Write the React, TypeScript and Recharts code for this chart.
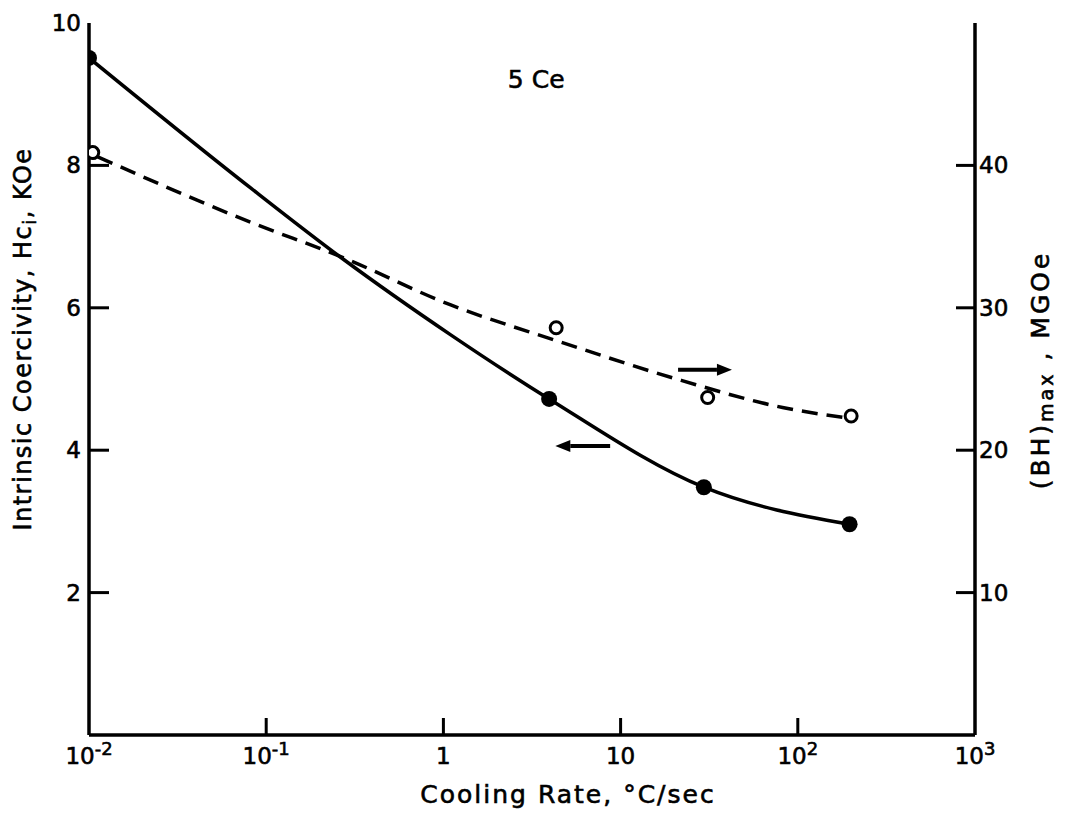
import {
  ComposedChart,
  Line,
  Scatter,
  XAxis,
  YAxis,
  ReferenceLine,
  ReferenceDot,
  Label,
} from 'recharts'

// filled points: intrinsic coercivity (KOe), left axis
const hciPoints = [
  { x: 0.01, y: 9.51 },
  { x: 3.95, y: 4.72 },
  { x: 29.5, y: 3.48 },
  { x: 196, y: 2.96 },
]

// solid curve drawn through the filled points
const hciCurve = [
  { x: 0.01, y: 9.51 },
  { x: 0.082, y: 7.68 },
  { x: 0.263, y: 6.71 },
  { x: 1.1, y: 5.62 },
  { x: 3.95, y: 4.72 },
  { x: 29.5, y: 3.48 },
  { x: 196, y: 2.96 },
]

// open points: (BH)max (MGOe), right axis
const bhPoints = [
  { x: 0.0105, y: 40.9 },
  { x: 4.33, y: 28.6 },
  { x: 31, y: 23.7 },
  { x: 200, y: 22.4 },
]

// dashed fit curve
const bhCurve = [
  { x: 0.0112, y: 40.6 },
  { x: 0.082, y: 36.0 },
  { x: 0.263, y: 33.6 },
  { x: 1.1, y: 30.2 },
  { x: 4.33, y: 27.7 },
  { x: 22, y: 24.9 },
  { x: 82, y: 23.0 },
  { x: 180, y: 22.3 },
]

const xTicks = [0.01, 0.1, 1, 10, 100, 1000]
const xTickLabels: Record<number, [string, string]> = {
  0.01: ['10', '-2'],
  0.1: ['10', '-1'],
  1: ['1', ''],
  10: ['10', ''],
  100: ['10', '2'],
  1000: ['10', '3'],
}
const leftTicks = [2, 4, 6, 8, 10]
const rightTicks = [10, 20, 30, 40]

// arrows pointing to the axis each curve belongs to
const rightArrow = [{ x: 21.1, y: 5.13 }, { x: 42.5, y: 5.13 }]
const leftArrow = [{ x: 8.73, y: 4.06 }, { x: 4.28, y: 4.06 }]

const FONT = '"DejaVu Sans", sans-serif'
const textStyle = { fontFamily: FONT, fill: '#000', stroke: '#000', strokeWidth: 0.6 }

const LeftTick = ({ x, y, payload }: any) => (
  <g>
    {payload.value !== 10 && <line x1={x} x2={x + 20} y1={y} y2={y} stroke="#000" strokeWidth={3} />}
    <text x={x - 8} y={y} textAnchor="end" dominantBaseline="central" fontSize={23} {...textStyle}>
      {payload.value}
    </text>
  </g>
)

const RightTick = ({ x, y, payload }: any) => (
  <g>
    <line x1={x} x2={x - 19} y1={y} y2={y} stroke="#000" strokeWidth={3} />
    <text x={x + 4} y={y} textAnchor="start" dominantBaseline="central" fontSize={23} {...textStyle}>
      {payload.value}
    </text>
  </g>
)

const BottomTick = ({ x, y, payload }: any) => {
  const v = payload.value
  const [base, sup] = xTickLabels[v] ?? [String(v), '']
  const edge = v === 0.01 || v === 1000
  return (
    <g>
      {!edge && <line x1={x} x2={x} y1={y} y2={y - 17} stroke="#000" strokeWidth={3} />}
      <text x={x} y={y + 29} textAnchor="middle" fontSize={23} {...textStyle}>
        {base}
        {sup && (
          <tspan dy={-9} fontSize={18}>
            {sup}
          </tspan>
        )}
      </text>
    </g>
  )
}

const Arrow = ({ x1, y1, x2, y2 }: any) => {
  const dir = x2 > x1 ? 1 : -1
  const head = 15
  return (
    <g>
      <line x1={x1} y1={y1} x2={x2 - dir * head} y2={y2} stroke="#000" strokeWidth={4} />
      <polygon points={`${x2},${y2} ${x2 - dir * head},${y2 - 6} ${x2 - dir * head},${y2 + 6}`} fill="#000" />
    </g>
  )
}

const FilledDot = ({ cx, cy }: any) => <circle cx={cx} cy={cy} r={8} fill="#000" />
const OpenDot = ({ cx, cy }: any) => <circle cx={cx} cy={cy} r={6} fill="#fff" stroke="#000" strokeWidth={3} />

export default function App() {
  return (
    <ComposedChart width={1049} height={801} margin={{ top: 15, right: 0, bottom: 0, left: 0 }}>
      <XAxis
        dataKey="x"
        type="number"
        scale="log"
        domain={[0.01, 1000]}
        allowDataOverflow
        ticks={xTicks}
        interval={0}
        height={74}
        tickSize={0}
        tickMargin={0}
        tickLine={false}
        axisLine={{ stroke: '#000', strokeWidth: 3.5 }}
        tick={(p: any) => <BottomTick {...p} />}
      >
        <Label
          content={({ viewBox }: any) => (
            <text
              x={viewBox.x + viewBox.width / 2 + 36}
              y={viewBox.y + 68}
              textAnchor="middle"
              fontSize={25}
              letterSpacing={2}
              {...textStyle}
            >
              Cooling Rate, °C/sec
            </text>
          )}
        />
      </XAxis>
      <XAxis
        xAxisId="top"
        orientation="top"
        type="number"
        scale="log"
        domain={[0.01, 1000]}
        allowDataOverflow
        height={0}
        tick={false}
        tickLine={false}
        axisLine={{ stroke: '#000', strokeWidth: 3.5 }}
      />
      <YAxis
        yAxisId="left"
        dataKey="y"
        type="number"
        domain={[0, 10]}
        allowDataOverflow
        ticks={leftTicks}
        interval={0}
        width={81}
        tickSize={0}
        tickMargin={0}
        tickLine={false}
        axisLine={{ stroke: '#000', strokeWidth: 3.5 }}
        tick={(p: any) => <LeftTick {...p} />}
      >
        <Label
          content={({ viewBox }: any) => {
            const cx = viewBox.x + 15
            const cy = viewBox.y + viewBox.height / 2 - 40
            return (
              <text
                x={cx}
                y={cy}
                transform={`rotate(-90 ${cx} ${cy})`}
                textAnchor="middle"
                dominantBaseline="central"
                fontSize={24}
                letterSpacing={1.5}
                {...textStyle}
              >
                Intrinsic Coercivity, Hc
                <tspan dy={6} fontSize={18}>i</tspan>
                <tspan dy={-6}>, KOe</tspan>
              </text>
            )
          }}
        />
      </YAxis>
      <YAxis
        yAxisId="right"
        orientation="right"
        dataKey="y"
        type="number"
        domain={[0, 50]}
        allowDataOverflow
        ticks={rightTicks}
        interval={0}
        width={82}
        tickSize={0}
        tickMargin={0}
        tickLine={false}
        axisLine={{ stroke: '#000', strokeWidth: 3.5 }}
        tick={(p: any) => <RightTick {...p} />}
      >
        <Label
          content={({ viewBox }: any) => {
            const cx = viewBox.x + 65
            const cy = viewBox.y + viewBox.height / 2 - 9
            return (
              <text
                x={cx}
                y={cy}
                transform={`rotate(-90 ${cx} ${cy})`}
                textAnchor="middle"
                dominantBaseline="central"
                fontSize={25}
                letterSpacing={3}
                {...textStyle}
              >
                (BH)
                <tspan dy={6} fontSize={19}>max</tspan>
                <tspan dy={-6}> , MGOe</tspan>
              </text>
            )
          }}
        />
      </YAxis>

      <Line
        yAxisId="left"
        data={hciCurve}
        dataKey="y"
        type="monotone"
        stroke="#000"
        strokeWidth={3.5}
        dot={false}
        activeDot={false}
        isAnimationActive={false}
      />
      <Line
        yAxisId="right"
        data={bhCurve}
        dataKey="y"
        type="monotone"
        stroke="#000"
        strokeWidth={3.5}
        strokeDasharray="16 9"
        dot={false}
        activeDot={false}
        isAnimationActive={false}
      />
      <Scatter yAxisId="left" data={hciPoints} shape={(p: any) => <FilledDot {...p} />} isAnimationActive={false} />
      <Scatter yAxisId="right" data={bhPoints} shape={(p: any) => <OpenDot {...p} />} isAnimationActive={false} />

      <ReferenceLine yAxisId="left" segment={rightArrow} shape={(p: any) => <Arrow {...p} />} />
      <ReferenceLine yAxisId="left" segment={leftArrow} shape={(p: any) => <Arrow {...p} />} />
      <ReferenceDot
        yAxisId="left"
        x={3.34}
        y={9.21}
        r={0}
        shape={(p: any) => (
          <text x={p.cx} y={p.cy} textAnchor="middle" dominantBaseline="central" fontSize={25} {...textStyle}>
            5 Ce
          </text>
        )}
      />
    </ComposedChart>
  )
}
